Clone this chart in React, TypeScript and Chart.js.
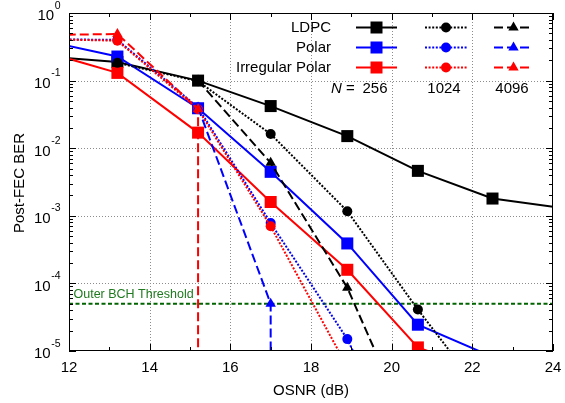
import React, { useEffect, useRef } from 'react';
import { Chart, registerables } from 'chart.js';

Chart.register(...registerables);

const FONT = '"Liberation Sans", Arial, Helvetica, sans-serif';

// ---- data (OSNR in dB, post-FEC BER) ----
// values below the 1e-5 floor / outside 12–24 dB continue the curves off the plotted range
const OSNR_LDPC_256 = [11.3, 13.2, 15.2, 17.0, 18.9, 20.65, 22.5, 24.35];
const BER_LDPC_256 = [0.231, 0.189, 0.1, 0.042, 0.0151, 0.00462, 0.0018, 0.00128];

const OSNR_POLAR_256 = [11.3, 13.2, 15.2, 17.0, 18.9, 20.65, 22.5];
const BER_POLAR_256 = [0.4, 0.227, 0.039, 0.00447, 0.00039, 2.45e-5, 8.2e-6];

const OSNR_IRPOLAR_256 = [11.3, 13.2, 15.2, 17.0, 18.9, 20.65, 22.5];
const BER_IRPOLAR_256 = [0.277, 0.13, 0.017, 0.0016, 0.000159, 1.13e-5, 4.5e-6];

const OSNR_LDPC_1024 = [13.2, 15.2, 17.0, 18.9, 20.65, 22.5];
const BER_LDPC_1024 = [0.183, 0.098, 0.0162, 0.00117, 4.1e-5, 1.5e-6];

const OSNR_POLAR_1024 = [11.3, 13.2, 15.2, 17.0, 18.9, 20.65];
const BER_POLAR_1024 = [0.41, 0.4, 0.04, 7.8e-4, 1.5e-5, 1e-7];

const OSNR_IRPOLAR_1024 = [11.3, 13.2, 15.2, 17.0, 18.9];
const BER_IRPOLAR_1024 = [0.41, 0.39, 0.0377, 7.0e-4, 5.8e-6];

const OSNR_LDPC_4096 = [15.2, 17.0, 18.9, 20.65];
const BER_LDPC_4096 = [0.1, 0.00607, 8.6e-5, 3.7e-7];

const OSNR_POLAR_4096 = [15.2, 17.0, 17.0];
const BER_POLAR_4096 = [0.04, 5.0e-5, 1e-7];

const OSNR_IRPOLAR_4096 = [11.3, 13.2, 15.2, 15.2];
const BER_IRPOLAR_4096 = [0.47, 0.49, 0.038, 1e-7];

const BCH_THRESHOLD = 5e-5;
const THRESHOLD_OSNR = [12, 24];

const CODE_NAMES = ['LDPC', 'Polar', 'Irregular Polar'];
const BLOCK_LENGTHS = ['256', '1024', '4096'];

const X_TICKS = [12, 14, 16, 18, 20, 22, 24];
const X_MINOR = [13, 15, 17, 19, 21, 23];
const Y_EXPONENTS = [0, -1, -2, -3, -4, -5];
const X_MIN = 12;
const X_MAX = 24;
const Y_MIN = 1e-5;
const Y_MAX = 1;

const COLORS = ['#000000', '#0000ff', '#ff0000'];
const DASHES = [[], [2, 1.6], [9, 4]];
const MARKERS = ['rect', 'circle', 'triangle'];
const RADII = [8.5, 5, 6];

const pts = (xs: number[], ys: number[]) => xs.map((x, i) => ({ x, y: ys[i] }));

function series(label: string, xs: number[], ys: number[], code: number, blk: number, order: number) {
  return {
    label,
    data: pts(xs, ys),
    borderColor: COLORS[code],
    backgroundColor: COLORS[code],
    borderWidth: 2,
    borderDash: DASHES[blk],
    pointStyle: MARKERS[blk],
    pointRadius: RADII[blk],
    pointBorderWidth: 0,
    pointBackgroundColor: COLORS[code],
    tension: 0,
    fill: false,
    order,
  };
}

function drawMarker(ctx: CanvasRenderingContext2D, kind: string, x: number, y: number, color: string) {
  ctx.save();
  ctx.fillStyle = color;
  ctx.setLineDash([]);
  ctx.beginPath();
  if (kind === 'rect') {
    ctx.rect(x - 6, y - 6, 12, 12);
  } else if (kind === 'circle') {
    ctx.arc(x, y, 5, 0, Math.PI * 2);
  } else {
    const r = 6;
    ctx.moveTo(x, y - r);
    ctx.lineTo(x + r * Math.sin((2 * Math.PI) / 3), y + r / 2);
    ctx.lineTo(x - r * Math.sin((2 * Math.PI) / 3), y + r / 2);
    ctx.closePath();
  }
  ctx.fill();
  ctx.restore();
}

const decorPlugin = {
  id: 'decor',
  beforeDatasetsDraw(chart: any) {
    const { ctx, chartArea: a, scales } = chart;
    const xs = scales.x;
    const ys = scales.y;
    ctx.save();
    ctx.strokeStyle = '#8c8c8c';
    ctx.lineWidth = 1;
    ctx.setLineDash([1, 2]);
    ctx.beginPath();
    for (const t of X_TICKS) {
      if (t <= X_MIN || t >= X_MAX) continue;
      const px = Math.round(xs.getPixelForValue(t)) + 0.5;
      ctx.moveTo(px, a.top);
      ctx.lineTo(px, a.bottom);
    }
    for (const e of Y_EXPONENTS) {
      const v = Math.pow(10, e);
      if (v <= Y_MIN || v >= Y_MAX) continue;
      const py = Math.round(ys.getPixelForValue(v)) + 0.5;
      ctx.moveTo(a.left, py);
      ctx.lineTo(a.right, py);
    }
    ctx.stroke();
    ctx.restore();
  },
  afterDatasetsDraw(chart: any) {
    const { ctx, chartArea: a, scales } = chart;
    const xs = scales.x;
    const ys = scales.y;
    ctx.save();
    // ticks
    ctx.strokeStyle = '#000';
    ctx.lineWidth = 1;
    ctx.setLineDash([]);
    ctx.beginPath();
    for (const t of X_TICKS) {
      const px = Math.round(xs.getPixelForValue(t)) + 0.5;
      ctx.moveTo(px, a.bottom); ctx.lineTo(px, a.bottom - 7);
      ctx.moveTo(px, a.top); ctx.lineTo(px, a.top + 7);
    }
    for (const t of X_MINOR) {
      const px = Math.round(xs.getPixelForValue(t)) + 0.5;
      ctx.moveTo(px, a.bottom); ctx.lineTo(px, a.bottom - 4);
      ctx.moveTo(px, a.top); ctx.lineTo(px, a.top + 4);
    }
    for (const e of Y_EXPONENTS) {
      const base = Math.pow(10, e);
      const py = Math.round(ys.getPixelForValue(base)) + 0.5;
      ctx.moveTo(a.left, py); ctx.lineTo(a.left + 7, py);
      ctx.moveTo(a.right, py); ctx.lineTo(a.right - 7, py);
      if (e < 0) {
        for (let m = 2; m <= 9; m++) {
          const pm = Math.round(ys.getPixelForValue(base * m)) + 0.5;
          ctx.moveTo(a.left, pm); ctx.lineTo(a.left + 4, pm);
          ctx.moveTo(a.right, pm); ctx.lineTo(a.right - 4, pm);
        }
      }
    }
    ctx.stroke();
    // frame
    ctx.strokeRect(a.left + 0.5, a.top + 0.5, a.right - a.left - 1, a.bottom - a.top - 1);

    // tick labels
    ctx.fillStyle = '#000';
    ctx.font = `15px ${FONT}`;
    ctx.textAlign = 'center';
    ctx.textBaseline = 'alphabetic';
    for (const t of X_TICKS) {
      ctx.fillText(String(t), xs.getPixelForValue(t), 371.5);
    }
    for (const e of Y_EXPONENTS) {
      const py = ys.getPixelForValue(Math.pow(10, e));
      const cy = py + 2;
      ctx.font = `10.5px ${FONT}`;
      ctx.textAlign = 'right';
      const expStr = String(e).replace('-', '-');
      const ew = ctx.measureText(expStr).width;
      ctx.fillText(expStr, 60.5, cy - 6.5);
      ctx.font = `15px ${FONT}`;
      ctx.fillText('10', 60.5 - ew - 0.5, cy + 5.4);
    }

    // axis titles
    ctx.font = `15px ${FONT}`;
    ctx.textAlign = 'center';
    ctx.fillText('OSNR (dB)', (a.left + a.right) / 2, 394.5);
    ctx.save();
    ctx.translate(24, 183);
    ctx.rotate(-Math.PI / 2);
    ctx.fillText('Post-FEC BER', 0, 0);
    ctx.restore();

    // threshold label
    ctx.fillStyle = '#1f7a1f';
    ctx.font = `12.5px ${FONT}`;
    ctx.textAlign = 'left';
    ctx.fillText('Outer BCH Threshold', 73.5, 297.8);

    // legend
    const rowY = [27, 47, 67];
    const cols = [
      { x0: 356, x1: 397, mx: 376.5 },
      { x0: 425, x1: 467, mx: 446 },
      { x0: 494, x1: 533, mx: 513.5 },
    ];
    ctx.font = `15px ${FONT}`;
    for (let r = 0; r < CODE_NAMES.length; r++) {
      const y = rowY[r];
      ctx.fillStyle = '#000';
      ctx.textAlign = 'right';
      ctx.fillText(CODE_NAMES[r], 331, y + 5.4);
      for (let c = 0; c < cols.length; c++) {
        const col = cols[c];
        ctx.save();
        ctx.strokeStyle = COLORS[r];
        ctx.lineWidth = 2;
        ctx.setLineDash(DASHES[c]);
        ctx.beginPath();
        ctx.moveTo(col.x0, y + 0.5);
        ctx.lineTo(col.x1, y + 0.5);
        ctx.stroke();
        ctx.restore();
        drawMarker(ctx, MARKERS[c], col.mx, y + 0.5, COLORS[r]);
      }
    }
    // N = row
    const ny = 88 + 5.4;
    ctx.fillStyle = '#000';
    ctx.textAlign = 'left';
    ctx.font = `italic 15px ${FONT}`;
    ctx.fillText('N', 331, ny);
    const nw = ctx.measureText('N').width;
    ctx.font = `15px ${FONT}`;
    ctx.fillText(' =', 331 + nw, ny);
    ctx.textAlign = 'center';
    const nCenters = [375, 444, 512];
    for (let c = 0; c < BLOCK_LENGTHS.length; c++) {
      ctx.fillText(BLOCK_LENGTHS[c], nCenters[c], ny);
    }
    ctx.restore();
  },
};

export default function App() {
  const ref = useRef<HTMLCanvasElement | null>(null);
  useEffect(() => {
    if (!ref.current) return;
    const chart = new Chart(ref.current, {
      type: 'line',
      data: {
        datasets: [
          series('LDPC N=256', OSNR_LDPC_256, BER_LDPC_256, 0, 0, 9),
          series('Polar N=256', OSNR_POLAR_256, BER_POLAR_256, 1, 0, 8),
          series('Irregular Polar N=256', OSNR_IRPOLAR_256, BER_IRPOLAR_256, 2, 0, 7),
          series('LDPC N=1024', OSNR_LDPC_1024, BER_LDPC_1024, 0, 1, 6),
          series('Polar N=1024', OSNR_POLAR_1024, BER_POLAR_1024, 1, 1, 5),
          series('Irregular Polar N=1024', OSNR_IRPOLAR_1024, BER_IRPOLAR_1024, 2, 1, 4),
          series('LDPC N=4096', OSNR_LDPC_4096, BER_LDPC_4096, 0, 2, 3),
          series('Polar N=4096', OSNR_POLAR_4096, BER_POLAR_4096, 1, 2, 2),
          series('Irregular Polar N=4096', OSNR_IRPOLAR_4096, BER_IRPOLAR_4096, 2, 2, 1),
          {
            label: 'Outer BCH Threshold',
            data: THRESHOLD_OSNR.map((x) => ({ x, y: BCH_THRESHOLD })),
            borderColor: '#006400',
            backgroundColor: '#006400',
            borderWidth: 2,
            borderDash: [4, 2.5],
            pointRadius: 0,
            tension: 0,
            fill: false,
            order: 10,
          } as any,
        ] as any,
      },
      options: {
        responsive: false,
        devicePixelRatio: 1,
        animation: false,
        layout: { padding: { left: 69, right: 12, top: 13, bottom: 52 } },
        plugins: { legend: { display: false }, tooltip: { enabled: false } },
        scales: {
          x: { type: 'linear', min: X_MIN, max: X_MAX, display: false },
          y: { type: 'logarithmic', min: Y_MIN, max: Y_MAX, display: false },
        },
      } as any,
      plugins: [decorPlugin as any],
    });
    return () => chart.destroy();
  }, []);
  return (
    <div style={{ position: 'fixed', left: 0, top: 0, width: 565, height: 403, background: '#fff' }}>
      <canvas ref={ref} width={565} height={403} style={{ width: 565, height: 403, display: 'block' }} />
    </div>
  );
}
